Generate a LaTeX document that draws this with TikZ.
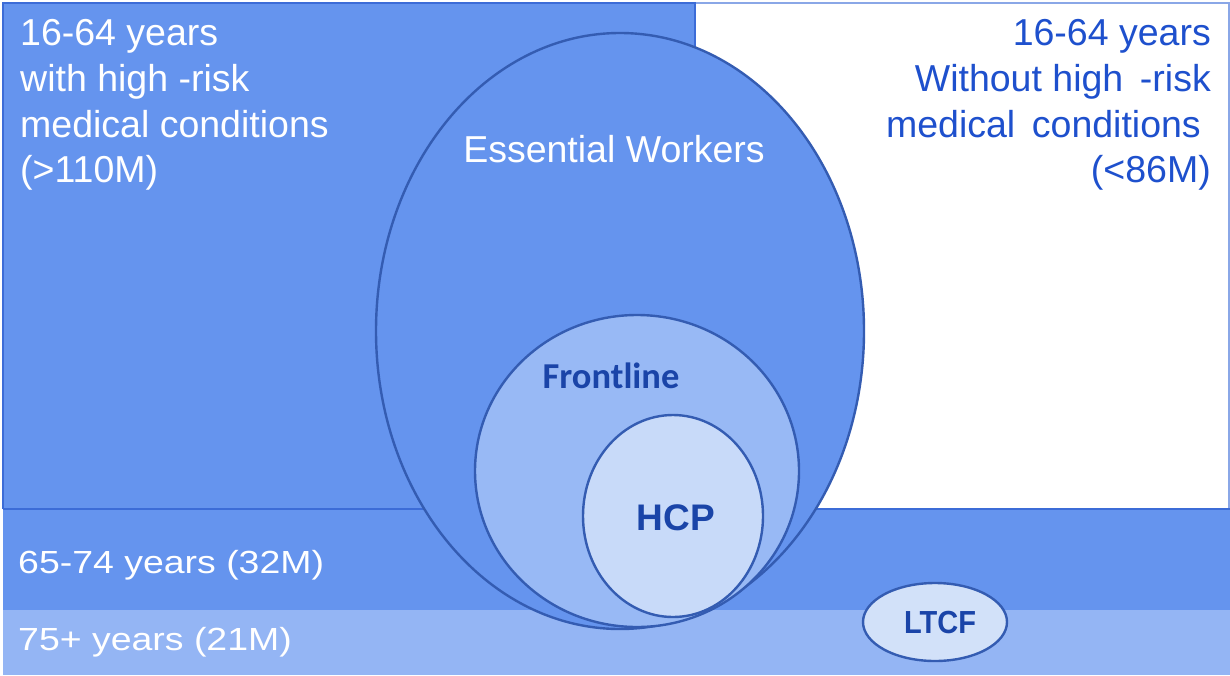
\documentclass[tikz,border=0pt]{standalone}
\usepackage{fontspec}
\setmainfont{Liberation Sans}
\newfontfamily\calib{Carlito}
\usetikzlibrary{shapes.geometric}
\definecolor{mainblue}{RGB}{101,148,238}
\definecolor{lightband}{RGB}{148,181,244}
\definecolor{frontfill}{RGB}{152,185,245}
\definecolor{hcpfill}{RGB}{200,218,249}
\definecolor{ltcffill}{RGB}{210,225,249}
\definecolor{edgeblue}{RGB}{52,92,178}
\definecolor{rectline}{RGB}{60,108,215}
\definecolor{darktext}{RGB}{26,68,168}
\definecolor{toptext}{RGB}{30,80,205}
\tikzset{
  venn/.style={ellipse, draw=edgeblue, line width=2.4pt, inner sep=0pt, outer sep=0pt},
  bigtext/.style={font=\fontsize{37.5}{46}\selectfont, inner sep=0pt},
  whitelbl/.style={bigtext, text=white},
  bluelbl/.style={bigtext, text=toptext},
  bandlbl/.style={text=white, font=\fontsize{32}{36}\selectfont, inner sep=0pt, anchor=base west},
}
\begin{document}
\begin{tikzpicture}[x=1pt,y=-1pt]
\useasboundingbox (0,0) rectangle (1230,675);
\fill[white] (0,0) rectangle (1230,675);
% top regions
\fill[mainblue] (3,3) rectangle (695,509);
\draw[rectline!60, line width=1.2pt] (695,3) rectangle (1229,509);
\draw[rectline, line width=1.4pt] (3,509) -- (3,3) -- (695,3) -- (695,509);
% bands
\fill[mainblue] (3,509) rectangle (1230,610);
\fill[lightband] (3,610) rectangle (1230,675);
\draw[rectline, line width=1.8pt] (3,509) -- (1230,509);
% ellipses
\node[venn, fill=mainblue, minimum width=488, minimum height=596] (ess) at (620,331) {};
\node[venn, fill=frontfill, minimum width=324, minimum height=312] (front) at (637,471) {};
\node[venn, fill=hcpfill, minimum width=180, minimum height=202] (hcp) at (673,516) {};
\node[venn, fill=ltcffill, minimum width=144, minimum height=78] (ltcf) at (935,622) {};
% labels top-left
\node[whitelbl, anchor=base west] (tl1) at (20,45) {16-64 years};
\node[whitelbl, anchor=base west] (tl2) at (20,91) {with high -risk};
\node[whitelbl, anchor=base west] (tl3) at (20,137) {medical conditions};
\node[whitelbl, anchor=base west] (tl4) at (20,182) {(>110M)};
% labels top-right
\node[bluelbl, anchor=base east] (tr1) at (1211,45) {16-64 years};
\node[bluelbl, anchor=base east] (tr2) at (1211,91) {Without high\, -risk};
\node[bluelbl, anchor=base east] (tr3) at (1201,137) {medical\, conditions};
\node[bluelbl, anchor=base east] (tr4) at (1211,182) {(<86M)};
% inner labels
\node[whitelbl, anchor=base] (esslbl) at (614,162) {Essential Workers};
\node[font=\calib\bfseries\fontsize{36.5}{40}\selectfont, text=darktext, inner sep=0pt, anchor=base] (frontlbl) at (611,388) {Frontline};
\node[font=\bfseries\fontsize{37}{40}\selectfont, text=darktext, inner sep=0pt, anchor=base] (hcplbl) at (676,530) {HCP};
\node[font=\bfseries\fontsize{29}{32}\selectfont, text=darktext, inner sep=0pt, anchor=base] (ltcflbl) at (940,633) {\scalebox{1}[1.1]{LTCF}};
% bottom bands
\node[bandlbl] (b1) at (18,573) {\scalebox{1.17}[1]{65-74 years (32M)}};
\node[bandlbl] (b2) at (18,650) {\scalebox{1.17}[1]{75+ years (21M)}};
\end{tikzpicture}
\end{document}
